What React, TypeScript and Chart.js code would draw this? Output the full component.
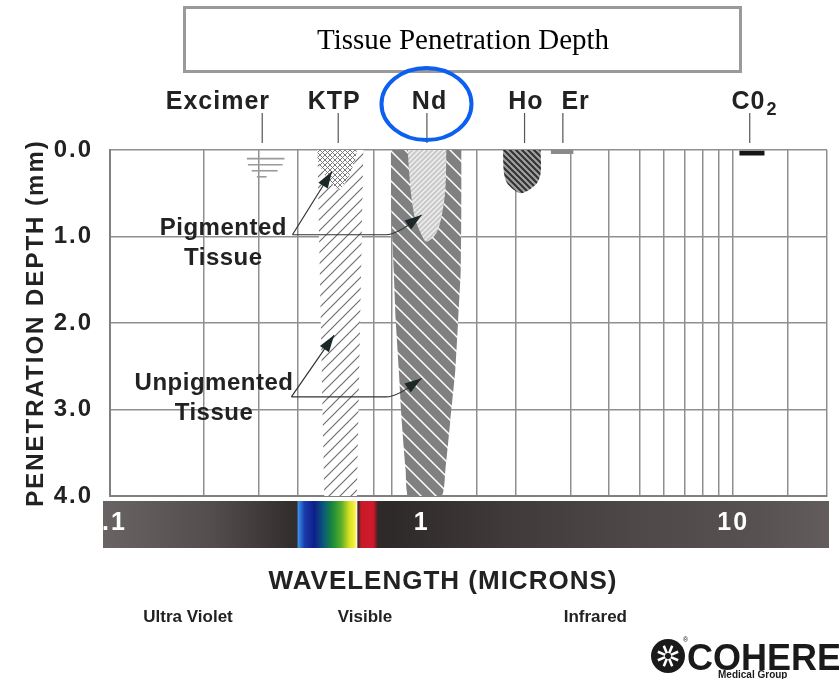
import React, { useEffect, useRef } from 'react';
import { Chart, registerables } from 'chart.js';

Chart.register(...registerables);

// ---------------- data ----------------
const laserNames = ['Excimer', 'KTP', 'Nd', 'Ho', 'Er', 'C0'];
const laserSubscripts = ['', '', '', '', '', '2'];
const laserWavelengths = [0.308, 0.54, 1.04, 2.14, 2.84, 11.3];
const laserLabelWavelengths = [0.222, 0.524, 1.06, 2.16, 3.12, 11.2];

const depthTicks = [0, 1, 2, 3, 4];
const bandTickValues = [0.1, 1, 10];
const bandTickLabels = [' .1', '1', '10'];
const visibleRange = [0.4, 0.72];

const regionNames = ['Ultra Violet', 'Visible', 'Infrared'];
const regionWavelengths = [0.178, 0.658, 3.61];

// Excimer: short horizontal strokes
const excimerFrom = [0.275, 0.277, 0.285, 0.296];
const excimerTo = [0.363, 0.358, 0.345, 0.318];
const excimerDepths = [0.1, 0.17, 0.24, 0.31];

// KTP
const ktpTopWavelengths = [0.463, 0.616, 0.594, 0.544, 0.491, 0.463];
const ktpTopDepths = [0, 0, 0.25, 0.46, 0.29, 0.12];
const ktpWavelengths = [0.463, 0.65, 0.62, 0.487];
const ktpDepths = [0, 0, 4, 4];

// Nd:YAG
const ndPigWavelengths = [0.902, 0.922, 0.95, 0.993, 1.037, 1.116, 1.158, 1.192, 1.201];
const ndPigDepths = [0, 0.46, 0.775, 0.96, 1.06, 0.96, 0.775, 0.46, 0];
const ndWavelengths = [0.797, 0.8, 0.814, 0.826, 0.845, 0.863, 0.889, 0.909, 1.158, 1.192, 1.237, 1.283, 1.31, 1.335, 1.341, 1.341];
const ndDepths = [0, 0.7, 1.39, 1.97, 2.54, 3.12, 3.7, 4.0, 4.0, 3.7, 3.12, 2.54, 1.97, 1.4, 0.7, 0];

// Ho:YAG
const hoWavelengths = [1.825, 1.838, 1.894, 2.084, 2.326, 2.41, 2.41];
const hoDepths = [0, 0.27, 0.4, 0.5, 0.4, 0.27, 0];

// Er:YAG
const erWavelengths = [2.6, 3.07, 3.07, 2.6];
const erDepths = [0, 0, 0.045, 0.045];

// CO2
const co2Wavelengths = [10.47, 12.6, 12.6, 10.47];
const co2Depths = [0.01, 0.01, 0.065, 0.065];

// Callouts
const calloutLines = [['Pigmented', 'Tissue'], ['Unpigmented', 'Tissue']];
const calloutTextX = [0.231, 0.2157];
const calloutTextDepths = [[0.983, 1.33], [2.775, 3.12]];
const calloutOriginX = [0.385, 0.382];
const calloutOriginDepths = [0.98, 2.855];
const calloutKtpTipX = [0.516, 0.524];
const calloutKtpTipDepths = [0.245, 2.14];
const calloutElbowX = [0.768, 0.768];
const calloutNdTipX = [1.0, 1.0];
const calloutNdTipDepths = [0.75, 2.64];

// ---------------- styles ----------------
const SANS = '"Liberation Sans", Arial, Helvetica, sans-serif';
const SERIF = '"Liberation Serif", "Times New Roman", Times, serif';

function hatch(bg: string, fg: string, size: number, lw: number, dir: string) {
  const c = document.createElement('canvas');
  c.width = size;
  c.height = size;
  const g = c.getContext('2d')!;
  g.fillStyle = bg;
  g.fillRect(0, 0, size, size);
  g.strokeStyle = fg;
  g.lineWidth = lw;
  g.beginPath();
  if (dir === '/' || dir === 'x') {
    g.moveTo(0, size); g.lineTo(size, 0);
    g.moveTo(-size / 2, size / 2); g.lineTo(size / 2, -size / 2);
    g.moveTo(size / 2, size * 1.5); g.lineTo(size * 1.5, size / 2);
  }
  if (dir === '\\' || dir === 'x') {
    g.moveTo(0, 0); g.lineTo(size, size);
    g.moveTo(-size / 2, size / 2); g.lineTo(size / 2, size * 1.5);
    g.moveTo(size / 2, -size / 2); g.lineTo(size * 1.5, size / 2);
  }
  g.stroke();
  return g.createPattern(c, 'repeat');
}

const pts = (xs: number[], ys: number[]) => xs.map((x, i) => ({ x, y: ys[i] }));

function shape(label: string, xs: number[], ys: number[], bg: any, tension = 0) {
  return {
    label,
    data: pts(xs, ys),
    showLine: true,
    fill: 'shape',
    backgroundColor: bg,
    borderColor: 'rgba(0,0,0,0)',
    borderWidth: 0,
    pointRadius: 0,
    pointHoverRadius: 0,
    tension,
  };
}

const bandStops: [number, string][] = [
  [0, '#6a6363'], [0.15, '#544d4d'], [0.26, '#332e2e'], [0.4, '#2f2a2a'],
  [0.55, '#3f3939'], [0.75, '#4f4949'], [0.9, '#575151'], [1, '#625c5c'],
];
const spectrumStops: [number, string][] = [
  [0, '#3a98f0'], [0.09, '#1a3aa8'], [0.21, '#0d1f8a'], [0.33, '#0b5a78'],
  [0.44, '#1b8a3a'], [0.55, '#5aae2a'], [0.65, '#d8e020'], [0.72, '#f8f040'],
  [0.74, '#fafae0'], [0.76, '#3a2a28'], [0.8, '#c81a28'], [0.95, '#d01a2e'], [1, '#6a1a20'],
];

function arrowHead(ctx: CanvasRenderingContext2D, fx: number, fy: number, tx: number, ty: number) {
  const ang = Math.atan2(ty - fy, tx - fx);
  const L = 17, W = 5.5;
  const bx = tx - L * Math.cos(ang), by = ty - L * Math.sin(ang);
  ctx.beginPath();
  ctx.moveTo(tx, ty);
  ctx.lineTo(bx + W * Math.sin(ang), by - W * Math.cos(ang));
  ctx.lineTo(bx - W * Math.sin(ang), by + W * Math.cos(ang));
  ctx.closePath();
  ctx.fill();
}

const overlay = {
  id: 'overlay',
  beforeDraw(chart: any) {
    const { ctx, chartArea: a, scales } = chart;
    const xs = scales.x;
    ctx.save();
    ctx.fillStyle = '#ffffff';
    ctx.fillRect(0, 0, chart.width, chart.height);
    const top = a.bottom + 5, h = 47;
    const left = a.left - 7, right = a.right + 2;
    const g = ctx.createLinearGradient(left, 0, right, 0);
    bandStops.forEach(([p, c]) => g.addColorStop(p, c));
    ctx.fillStyle = g;
    ctx.fillRect(left, top, right - left, h);
    const s0 = xs.getPixelForValue(visibleRange[0]);
    const s1 = xs.getPixelForValue(visibleRange[1]);
    const sg = ctx.createLinearGradient(s0, 0, s1, 0);
    spectrumStops.forEach(([p, c]) => sg.addColorStop(p, c));
    ctx.fillStyle = sg;
    ctx.fillRect(s0, top, s1 - s0, h);
    ctx.restore();
    ctx.letterSpacing = '2px';
  },
  afterDraw(chart: any) {
    const { ctx, chartArea: a, scales } = chart;
    const xs = scales.x, ys = scales.y;
    const X = (v: number) => xs.getPixelForValue(v);
    const Y = (v: number) => ys.getPixelForValue(v);
    ctx.save();
    ctx.letterSpacing = '0px';

    // Title box
    ctx.strokeStyle = '#9a9a9a';
    ctx.lineWidth = 3;
    ctx.strokeRect(184.5, 7.5, 556, 64);
    ctx.fillStyle = '#000';
    ctx.font = `29px ${SERIF}`;
    ctx.textAlign = 'center';
    ctx.textBaseline = 'middle';
    ctx.fillText('Tissue Penetration Depth', 463, 41);

    // Laser labels and leader lines
    ctx.strokeStyle = '#555';
    ctx.lineWidth = 1.2;
    ctx.fillStyle = '#222';
    ctx.textBaseline = 'alphabetic';
    laserNames.forEach((name, i) => {
      const lx = X(laserWavelengths[i]);
      ctx.beginPath();
      ctx.moveTo(lx, a.top - 37);
      ctx.lineTo(lx, a.top - 7);
      ctx.stroke();
      ctx.letterSpacing = '1px';
      ctx.font = `bold 25px ${SANS}`;
      const tx = X(laserLabelWavelengths[i]);
      ctx.textAlign = 'center';
      ctx.fillText(name, tx, a.top - 41);
      if (laserSubscripts[i]) {
        const w = ctx.measureText(name).width;
        ctx.font = `bold 18px ${SANS}`;
        ctx.textAlign = 'left';
        ctx.fillText(laserSubscripts[i], tx + w / 2 + 1, a.top - 35);
      }
    });
    ctx.letterSpacing = '0px';

    // Blue circle around Nd
    ctx.strokeStyle = '#0d5ff0';
    ctx.lineWidth = 4;
    ctx.beginPath();
    ctx.ellipse(X(laserLabelWavelengths[2]) - 3, a.top - 46, 45, 36, 0, 0, Math.PI * 2);
    ctx.stroke();

    // Callouts
    calloutLines.forEach((lines, i) => {
      ctx.fillStyle = '#222';
      ctx.font = `bold 24px ${SANS}`;
      ctx.letterSpacing = '0.5px';
      ctx.textAlign = 'center';
      lines.forEach((t, j) => ctx.fillText(t, X(calloutTextX[i]), Y(calloutTextDepths[i][j])));
      ctx.letterSpacing = '0px';
      const ox = X(calloutOriginX[i]), oy = Y(calloutOriginDepths[i]);
      const k1x = X(calloutKtpTipX[i]), k1y = Y(calloutKtpTipDepths[i]);
      const ex = X(calloutElbowX[i]);
      const n1x = X(calloutNdTipX[i]), n1y = Y(calloutNdTipDepths[i]);
      ctx.strokeStyle = '#333';
      ctx.lineWidth = 1.2;
      ctx.beginPath();
      ctx.moveTo(ox, oy);
      ctx.lineTo(k1x, k1y);
      ctx.moveTo(ox, oy);
      ctx.lineTo(ex, oy);
      ctx.quadraticCurveTo(ex + 12, oy, n1x, n1y);
      ctx.stroke();
      ctx.fillStyle = '#1c2828';
      arrowHead(ctx, ox, oy, k1x, k1y);
      arrowHead(ctx, ex + 6, oy + 2, n1x, n1y);
    });

    // Axis title below band
    ctx.fillStyle = '#222';
    ctx.textAlign = 'center';
    ctx.letterSpacing = '1px';
    ctx.font = `bold 26px ${SANS}`;
    ctx.fillText('WAVELENGTH (MICRONS)', a.left + 333, a.bottom + 93);
    ctx.font = `bold 17px ${SANS}`;
    ctx.letterSpacing = '0px';
    regionNames.forEach((n, i) => ctx.fillText(n, X(regionWavelengths[i]), a.bottom + 126));

    // Logo
    const cx = 668, cy = 656;
    ctx.fillStyle = '#1a1a1a';
    ctx.beginPath();
    ctx.arc(cx, cy, 17, 0, Math.PI * 2);
    ctx.fill();
    ctx.strokeStyle = '#fff';
    ctx.lineWidth = 2.6;
    ctx.beginPath();
    for (let k = 0; k < 8; k++) {
      const an = (k * Math.PI) / 4 + Math.PI / 8;
      ctx.moveTo(cx + 3 * Math.cos(an), cy + 3 * Math.sin(an));
      ctx.lineTo(cx + 11 * Math.cos(an), cy + 11 * Math.sin(an));
    }
    ctx.stroke();
    ctx.fillStyle = '#1a1a1a';
    ctx.textAlign = 'left';
    ctx.font = `bold 36px ${SANS}`;
    ctx.fillText('COHERENT', 687, 670);
    ctx.font = `7px ${SANS}`;
    ctx.fillText('®', 683, 642);
    ctx.font = `bold 10px ${SANS}`;
    ctx.fillText('Medical Group', 718, 678);

    ctx.restore();
    ctx.letterSpacing = '0px';
  },
};

export default function App() {
  const ref = useRef<HTMLCanvasElement>(null);
  useEffect(() => {
    const canvas = ref.current!;
    const datasets: any[] = [];
    excimerDepths.forEach((d, i) => {
      datasets.push({
        label: 'Excimer ' + i,
        data: [{ x: excimerFrom[i], y: d }, { x: excimerTo[i], y: d }],
        showLine: true,
        fill: false,
        borderColor: '#9a9a9a',
        borderWidth: 1.6,
        pointRadius: 0,
        pointHoverRadius: 0,
      });
    });
    datasets.push(shape('Er', erWavelengths, erDepths, '#8a8a8a'));
    datasets.push(shape('CO2', co2Wavelengths, co2Depths, '#151515'));
    datasets.push(shape('KTP pigmented', ktpTopWavelengths, ktpTopDepths, hatch('#ffffff', '#7a7a7a', 5, 1, 'x'), 0.2));
    datasets.push(shape('KTP', ktpWavelengths, ktpDepths, hatch('#ffffff', '#6f6f6f', 11, 1.2, '/')));
    datasets.push(shape('Nd pigmented', ndPigWavelengths, ndPigDepths, hatch('#c9c9c9', '#f2f2f2', 5, 1.4, '/'), 0.3));
    datasets.push(shape('Nd', ndWavelengths, ndDepths, hatch('#808080', '#ffffff', 15, 1.5, '\\'), 0.2));
    datasets.push(shape('Ho', hoWavelengths, hoDepths, hatch('#a0a0a0', '#303030', 6, 2, '\\'), 0.3));

    const sameVal = (a: number, b: number) => Math.abs(a - b) < 1e-9 * Math.max(1, b);

    const chart = new Chart(canvas, {
      type: 'scatter',
      data: { datasets },
      options: {
        responsive: false,
        animation: false,
        events: [],
        layout: { padding: { top: 150, right: 10, left: 0, bottom: 0 } },
        plugins: {
          legend: { display: false },
          tooltip: { enabled: false },
          title: { display: false },
        },
        scales: {
          x: {
            type: 'logarithmic',
            min: 0.1,
            max: 20,
            position: 'bottom',
            afterFit: (s: any) => { s.height = 183; },
            grid: { color: '#8f8f8f', lineWidth: 1.5, drawTicks: false },
            border: { color: '#808080', width: 2 },
            ticks: {
              autoSkip: false,
              maxRotation: 0,
              minRotation: 0,
              padding: 12,
              color: '#ffffff',
              font: { family: SANS, size: 25, weight: 'bold' },
              callback: (v: any) => {
                const i = bandTickValues.findIndex((t) => sameVal(Number(v), t));
                return i >= 0 ? bandTickLabels[i] : '';
              },
            },
          },
          y: {
            type: 'linear',
            min: depthTicks[0],
            max: depthTicks[depthTicks.length - 1],
            reverse: true,
            afterFit: (s: any) => { s.width = 110; },
            grid: { color: '#8f8f8f', lineWidth: 1.5, drawTicks: false },
            border: { color: '#808080', width: 2 },
            ticks: {
              stepSize: 1,
              padding: 17,
              color: '#222222',
              font: { family: SANS, size: 24, weight: 'bold' },
              callback: (v: any) => Number(v).toFixed(1),
            },
            title: {
              display: true,
              text: 'PENETRATION DEPTH (mm)',
              color: '#222222',
              font: { family: SANS, size: 24, weight: 'bold' },
              padding: { top: 22, bottom: 0 },
            },
          },
        },
      } as any,
      plugins: [overlay as any],
    });
    return () => chart.destroy();
  }, []);

  return (
    <div style={{ position: 'fixed', left: 0, top: 0, width: 839, height: 679, background: '#fff' }}>
      <canvas ref={ref} width={839} height={679} style={{ display: 'block', width: 839, height: 679 }} />
    </div>
  );
}
